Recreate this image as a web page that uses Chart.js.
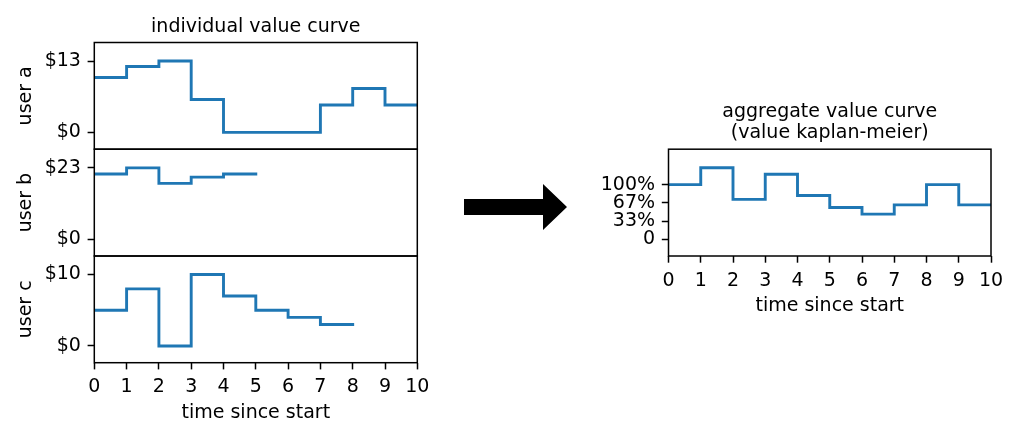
<!DOCTYPE html>
<html>
<head>
<meta charset="utf-8">
<title>value curves</title>
<script src="https://cdn.jsdelivr.net/npm/chart.js@4/dist/chart.umd.min.js"></script>
<style>
  html, body { margin: 0; padding: 0; background: #fff; }
  #page { position: relative; width: 1024px; height: 438px; overflow: hidden; }
  .panel { position: absolute; }
  #arrow {
    position: absolute; left: 464px; top: 184px; width: 103px; height: 46px; background: #000;
    clip-path: polygon(0 15px, 79px 15px, 79px 0, 103px 23px, 79px 46px, 79px 31px, 0 31px);
  }
</style>
</head>
<body>
<div id="page">
  <canvas id="user-a" class="panel" style="left:0;top:0" width="430" height="175"></canvas>
  <canvas id="user-b" class="panel" style="left:0;top:120px" width="430" height="160"></canvas>
  <canvas id="user-c" class="panel" style="left:0;top:226px" width="450" height="212"></canvas>
  <div id="arrow"></div>
  <canvas id="aggregate" class="panel" style="left:590px;top:80px" width="434" height="250"></canvas>
</div>
<script>
// time steps (x) and step values, last value repeated at the end of each curve
const timeSteps = [0, 1, 2, 3, 4, 5, 6, 7, 8, 9, 10]
const userA = [10, 12, 13, 6, 0, 0, 0, 5, 8, 5, 5]
const userB = [21, 23, 18, 20, 21, 21]
const userC = [5, 8, 0, 10, 7, 5, 4, 3, 3]
const aggregate = [1.0, 1.31, 0.73, 1.19, 0.8, 0.58, 0.46, 0.63, 1.0, 0.63, 0.63]

// tick labels
const xTicks = [0, 1, 2, 3, 4, 5, 6, 7, 8, 9, 10]
const userATicks = [0, 13]
const userBTicks = [0, 23]
const userCTicks = [0, 10]
const aggTicks = [0, 0.333, 0.667, 1]
const aggTickLabels = ["0", "33%", "67%", "100%"]

const BLUE = "#1f77b4"
const FONT = 19

Chart.defaults.font.family = "'DejaVu Sans', sans-serif"
Chart.defaults.font.size = FONT
Chart.defaults.color = "#000"

// axes box drawn like matplotlib spines
const frame = {
  id: "frame",
  afterDatasetsDraw(chart) {
    const { ctx, chartArea: a } = chart
    ctx.save()
    ctx.strokeStyle = "#000"
    ctx.lineWidth = 1.5
    ctx.strokeRect(a.left, a.top, a.right - a.left, a.bottom - a.top)
    ctx.restore()
  },
}

const tickGrid = {
  display: true,
  drawOnChartArea: false,
  drawTicks: true,
  tickLength: 6.7,
  tickWidth: 1.5,
  tickColor: "#000",
}

function points(values) {
  return values.map((v, i) => ({ x: timeSteps[i], y: v }))
}

function yAxis(min, max, ticks, labels, width, title) {
  return {
    type: "linear",
    min: min,
    max: max,
    afterBuildTicks: (s) => { s.ticks = ticks.map((v) => ({ value: v })) },
    afterFit: (s) => { s.width = width },
    ticks: { padding: 6.7, callback: (v, i) => labels[i] },
    grid: tickGrid,
    border: { display: false },
    title: { display: !!title, text: title, padding: { top: 15.1, bottom: 0 } },
  }
}

function xAxis(show, height, titlePad) {
  if (!show) return { type: "linear", min: 0, max: 10, display: false }
  return {
    type: "linear",
    min: 0,
    max: 10,
    afterBuildTicks: (s) => { s.ticks = xTicks.map((v) => ({ value: v })) },
    afterFit: (s) => { s.height = height },
    ticks: { padding: 6.7, maxRotation: 0, autoSkip: false },
    grid: tickGrid,
    border: { display: false },
    title: { display: true, text: "time since start", padding: { top: 0, bottom: titlePad } },
  }
}

function makePanel(id, values, opts) {
  return new Chart(document.getElementById(id), {
    type: "line",
    data: {
      datasets: [
        {
          data: points(values),
          borderColor: BLUE,
          borderWidth: 2.9,
          borderCapStyle: "square",
          pointRadius: 0,
          stepped: "before",
          fill: false,
          clip: 0,
        },
      ],
    },
    options: {
      responsive: false,
      animation: false,
      events: [],
      layout: { padding: opts.padding },
      scales: { x: opts.x, y: opts.y },
      plugins: {
        legend: { display: false },
        tooltip: { enabled: false },
        title: opts.title || { display: false },
      },
    },
    plugins: [frame],
  })
}

makePanel("user-a", userA, {
  padding: { left: 0, top: 0, right: 12.7, bottom: 25.8 },
  x: xAxis(false),
  y: yAxis(-3.06, 16.38, userATicks, userATicks.map((v) => "$" + v), 94.3, "user a"),
  title: {
    display: true,
    text: "individual value curve",
    fullSize: false,
    font: { size: FONT, weight: "normal" },
    padding: { top: 15.6, bottom: 4.1 },
  },
})

makePanel("user-b", userB, {
  padding: { left: 0, top: 29.2, right: 12.7, bottom: 24 },
  x: xAxis(false),
  y: yAxis(-5.4, 29, userBTicks, userBTicks.map((v) => "$" + v), 94.3, "user b"),
})

makePanel("user-c", userC, {
  padding: { left: 0, top: 30, right: 32.7, bottom: 0 },
  x: xAxis(true, 75.3, 13.6),
  y: yAxis(-2.35, 12.6, userCTicks, userCTicks.map((v) => "$" + v), 94.3, "user c"),
})

makePanel("aggregate", aggregate, {
  padding: { left: 0, top: 0, right: 33, bottom: 0 },
  x: xAxis(true, 74, 12.6),
  y: yAxis(-0.308, 1.65, aggTicks, aggTickLabels, 78.5, ""),
  title: {
    display: true,
    text: ["aggregate value curve", "(value kaplan-meier)"],
    fullSize: false,
    font: { size: FONT, weight: "normal", lineHeight: 1.105 },
    padding: { top: 21.5, bottom: 5.7 },
  },
})
</script>
</body>
</html>
